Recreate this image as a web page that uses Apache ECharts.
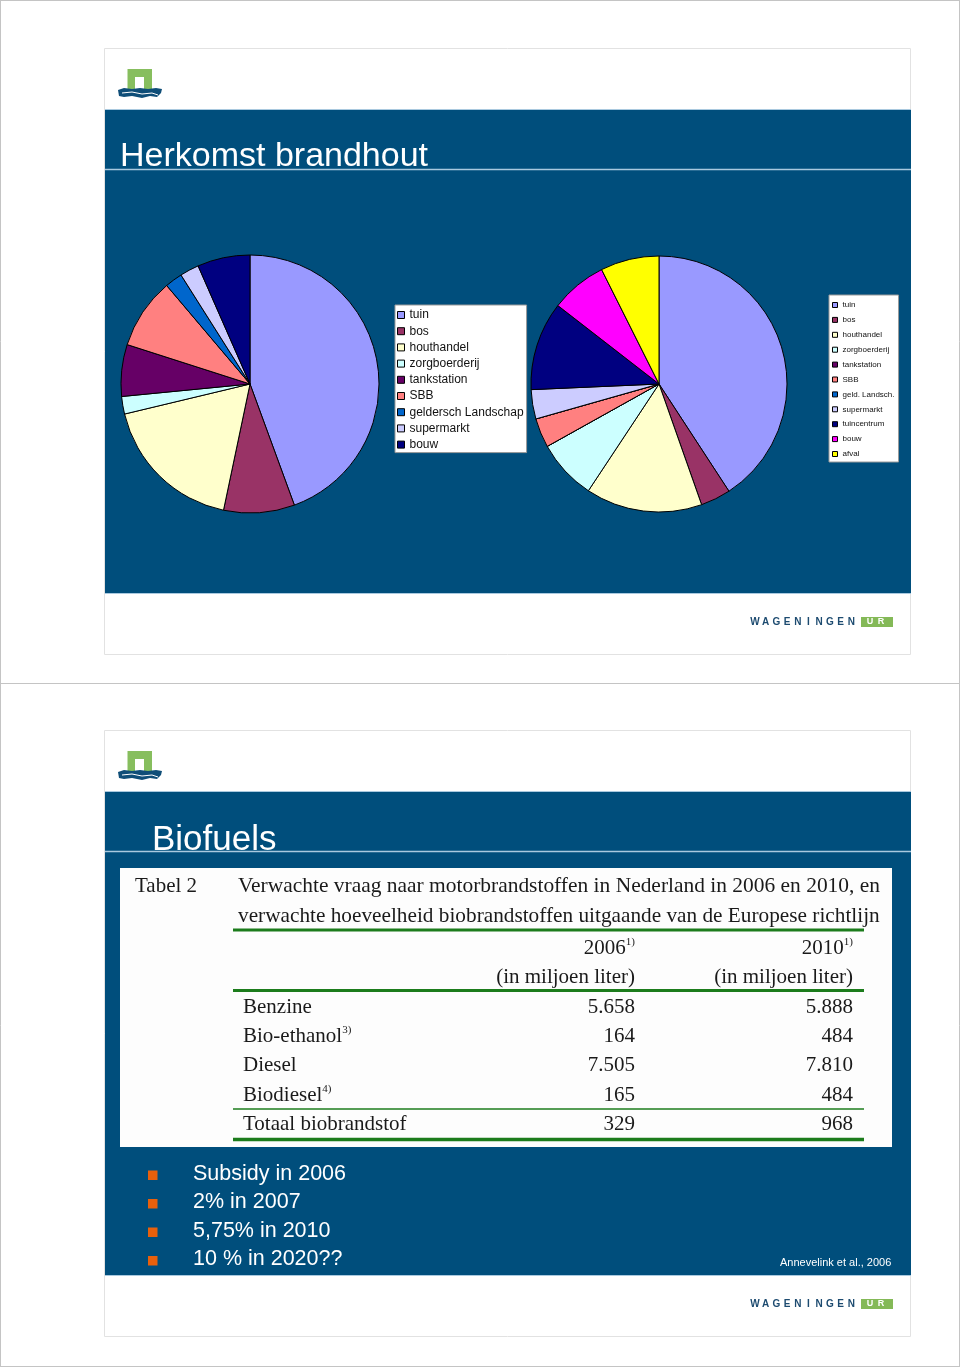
<!DOCTYPE html>
<html><head><meta charset="utf-8">
<script src="https://cdn.jsdelivr.net/npm/echarts@6/dist/echarts.min.js"></script>
<style>html,body{margin:0;padding:0;background:#fff}#c{width:960px;height:1367px}</style>
</head><body><div id="c"></div>
<script>
// ---------- data ----------
const slideTitles = ['Herkomst brandhout', 'Biofuels'];

const pie1Names = ['tuin', 'bos', 'houthandel', 'zorgboerderij', 'tankstation', 'SBB', 'geldersch Landschap', 'supermarkt', 'bouw'];
const pie1Values = [44.5, 8.9, 18.0, 2.2, 6.5, 8.9, 2.2, 2.4, 6.6];

const pie2Names = ['tuin', 'bos', 'houthandel', 'zorgboerderij', 'tankstation', 'SBB', 'geld. Landsch.', 'supermarkt', 'tuincentrum', 'bouw', 'afval'];
const pie2Values = [40.8, 3.8, 14.7, 7.6, 0, 3.7, 0, 3.7, 11.2, 7.1, 7.4];

const tableLabel = 'Tabel 2';
const tableTitle = ['Verwachte vraag naar motorbrandstoffen in Nederland in 2006 en 2010, en',
                    'verwachte hoeveelheid biobrandstoffen uitgaande van de Europese richtlijn'];
const tableColumns = ['2006', '2010'];
const columnNotes = ['1)', '1)'];
const columnUnit = '(in miljoen liter)';
const tableRows = ['Benzine', 'Bio-ethanol', 'Diesel', 'Biodiesel', 'Totaal biobrandstof'];
const rowNotes = ['', '3)', '', '4)', ''];
const values2006 = [5658, 164, 7505, 165, 329];
const values2010 = [5888, 484, 7810, 484, 968];

const bullets = ['Subsidy in 2006', '2% in 2007', '5,75% in 2010', '10 % in 2020??'];
const sourceNote = 'Annevelink et al., 2006';

// ---------- styles ----------
const pie1Colors = ['#9999FF', '#993366', '#FFFFCC', '#CCFFFF', '#660066', '#FF8080', '#0066CC', '#CCCCFF', '#000080'];
const pie2Colors = ['#9999FF', '#993366', '#FFFFCC', '#CCFFFF', '#660066', '#FF8080', '#0066CC', '#CCCCFF', '#000080', '#FF00FF', '#FFFF00'];
const BLUE = '#004e7c';
const LIGHT = '#a9c9df';
const GREEN = '#1c7c1c';
const SANS = '"Liberation Sans", Arial, sans-serif';
const SERIF = '"Liberation Serif", "Times New Roman", serif';

function fmt(n) { return String(n).replace(/\B(?=(\d{3})+(?!\d))/g, '.'); }

const els = [];
// page borders
[[0.5, 0, 0.5, 1367], [959.5, 0, 959.5, 1367], [0, 0.5, 960, 0.5], [0, 683.5, 960, 683.5], [0, 1366.5, 960, 1366.5]].forEach(l => {
  els.push({ type: 'line', shape: { x1: l[0], y1: l[1], x2: l[2], y2: l[3] }, style: { stroke: '#c4c4c4', lineWidth: 1 } });
});

function logo(oy) {
  els.push({ type: 'rect', shape: { x: 127.5, y: 69 + oy, width: 24.5, height: 21.5 }, style: { fill: '#87be5e' } });
  els.push({ type: 'rect', shape: { x: 135, y: 77 + oy, width: 9, height: 13.5 }, style: { fill: '#ffffff' } });
  els.push({ type: 'polygon', shape: { points: [[118, 90], [124, 88], [132, 89], [140, 88], [148, 89], [156, 88], [162, 89], [161, 93], [157, 97], [150, 96], [142, 98], [132, 96], [124, 97], [119, 96]].map(p => [p[0], p[1] + oy]) }, style: { fill: '#0f4e78' } });
  els.push({ type: 'polyline', shape: { points: [[122, 93], [132, 92], [142, 94], [152, 93], [158, 95]].map(p => [p[0], p[1] + oy]) }, style: { stroke: '#ffffff', lineWidth: 1, fill: null } });
}
function wur(cy) {
  'WAGENINGEN'.split('').forEach((ch, i) => {
    els.push({ type: 'text', style: { text: ch, x: 755 + i * 10.7, y: cy, align: 'center', verticalAlign: 'middle', font: 'bold 10px ' + SANS, fill: '#1d4b70' } });
  });
  els.push({ type: 'rect', shape: { x: 861, y: cy - 5, width: 32, height: 10 }, style: { fill: '#84b957' } });
  els.push({ type: 'text', style: { text: 'U', x: 870, y: cy, align: 'center', verticalAlign: 'middle', font: 'bold 9px ' + SANS, fill: '#fff' } });
  els.push({ type: 'text', style: { text: 'R', x: 881, y: cy, align: 'center', verticalAlign: 'middle', font: 'bold 9px ' + SANS, fill: '#fff' } });
}
function slide(oy, title, tx, fs, baseline) {
  els.push({ type: 'rect', shape: { x: 104.5, y: 48.5 + oy, width: 806, height: 606 }, style: { fill: '#fff', stroke: '#e2e2e2', lineWidth: 1 } });
  els.push({ type: 'rect', shape: { x: 105, y: 109 + oy, width: 806, height: 484 }, style: { fill: BLUE } });
  els.push({ type: 'line', shape: { x1: 105, y1: 109.5 + oy, x2: 911, y2: 109.5 + oy }, style: { stroke: LIGHT, lineWidth: 1 } });
  els.push({ type: 'line', shape: { x1: 105, y1: 169.5 + oy, x2: 911, y2: 169.5 + oy }, style: { stroke: LIGHT, lineWidth: 1.5 } });
  els.push({ type: 'line', shape: { x1: 105, y1: 593.5 + oy, x2: 911, y2: 593.5 + oy }, style: { stroke: LIGHT, lineWidth: 1 } });
  els.push({ type: 'text', style: { text: title, x: tx, y: baseline - 0.3465 * fs, verticalAlign: 'middle', font: fs + 'px ' + SANS, fill: '#fff' } });
  logo(oy);
  wur(622 + oy);
}
slide(0, slideTitles[0], 120, 34, 168.5);
slide(682, slideTitles[1], 152, 35, 852);

// table
const TFS = 21;
function tY(b) { return b - 0.3375 * TFS; }
els.push({ type: 'rect', shape: { x: 120, y: 868, width: 772, height: 279 }, style: { fill: '#fdfdfd' } });
const richStyle = { n: { fontSize: TFS, fontFamily: SERIF, lineHeight: 24, fill: '#1a1a1a' }, s: { fontSize: 11, fontFamily: SERIF, lineHeight: 18, verticalAlign: 'top', fill: '#1a1a1a' } };
els.push({ type: 'text', style: { text: tableLabel, x: 135, y: tY(894), verticalAlign: 'middle', font: TFS + 'px ' + SERIF, fill: '#1a1a1a' } });
tableTitle.forEach((t, i) => {
  els.push({ type: 'text', scaleX: i === 0 ? 1.021 : 1.013, originX: 238, style: { text: t, x: 238, y: tY(894 + i * 29.5), verticalAlign: 'middle', font: TFS + 'px ' + SERIF, fill: '#1a1a1a' } });
});
const colRight = [635, 853];
tableColumns.forEach((c, i) => {
  els.push({ type: 'text', style: { text: '{n|' + c + '}{s|' + columnNotes[i] + '}', rich: richStyle, x: colRight[i], y: tY(955.5), align: 'right', verticalAlign: 'middle' } });
  els.push({ type: 'text', style: { text: columnUnit, x: colRight[i], y: tY(985), align: 'right', verticalAlign: 'middle', font: TFS + 'px ' + SERIF, fill: '#1a1a1a' } });
});
const rowBase = [1015, 1043.5, 1073, 1102.3, 1132];
tableRows.forEach((r, i) => {
  const txt = rowNotes[i] ? '{n|' + r + '}{s|' + rowNotes[i] + '}' : '{n|' + r + '}';
  els.push({ type: 'text', style: { text: txt, rich: richStyle, x: 243, y: tY(rowBase[i]), verticalAlign: 'middle' } });
  els.push({ type: 'text', style: { text: fmt(values2006[i]), x: colRight[0], y: tY(rowBase[i]), align: 'right', verticalAlign: 'middle', font: TFS + 'px ' + SERIF, fill: '#1a1a1a' } });
  els.push({ type: 'text', style: { text: fmt(values2010[i]), x: colRight[1], y: tY(rowBase[i]), align: 'right', verticalAlign: 'middle', font: TFS + 'px ' + SERIF, fill: '#1a1a1a' } });
});
[[930, 3], [990.5, 3], [1109, 1.5], [1139.5, 3.5]].forEach(l => {
  els.push({ type: 'line', shape: { x1: 233, y1: l[0], x2: 864, y2: l[0] }, style: { stroke: GREEN, lineWidth: l[1] } });
});

// bullets
bullets.forEach((b, i) => {
  const cy = 1175 + i * 28.5;
  els.push({ type: 'rect', shape: { x: 148, y: cy - 4.5, width: 9.5, height: 9.5 }, style: { fill: '#e8600c' } });
  els.push({ type: 'text', style: { text: b, x: 193, y: cy - 1, verticalAlign: 'middle', font: '21.5px ' + SANS, fill: '#fff' } });
});
els.push({ type: 'text', style: { text: sourceNote, x: 780, y: 1263, verticalAlign: 'middle', font: '11px ' + SANS, fill: '#fff' } });

const pieCommon = {
  type: 'pie', startAngle: 90, clockwise: true, label: { show: false }, labelLine: { show: false },
  itemStyle: { borderColor: '#000', borderWidth: 1 }, emphasis: { disabled: true }, silent: true, z: 5
};
const legendCommon = {
  orient: 'vertical', backgroundColor: '#fff', borderColor: '#9a9a9a', borderWidth: 1, icon: 'rect',
  selectedMode: false, itemStyle: { borderColor: '#000', borderWidth: 1 }, z: 6
};

const chart = echarts.init(document.getElementById('c'), null, { renderer: 'canvas' });
chart.setOption({
  animation: false,
  backgroundColor: '#fff',
  graphic: { elements: els },
  legend: [
    Object.assign({}, legendCommon, {
      data: pie1Names.map((n, i) => ({ name: n, itemStyle: { color: pie1Colors[i] } })),
      left: 395, top: 305, padding: [3, 3, 1, 2], itemWidth: 7, itemHeight: 7, itemGap: 2.2,
      textStyle: { fontFamily: SANS, fontSize: 12, lineHeight: 14, color: '#111' }
    }),
    Object.assign({}, legendCommon, {
      data: pie2Names.map((n, i) => ({ name: n, itemStyle: { color: pie2Colors[i] } })),
      left: 829, top: 295, padding: [5, 4, 3, 3], itemWidth: 5, itemHeight: 5, itemGap: 4.9,
      textStyle: { fontFamily: SANS, fontSize: 8, lineHeight: 10, color: '#111' }
    })
  ],
  series: [
    Object.assign({}, pieCommon, {
      name: 'links', center: [250, 384], radius: 129,
      data: pie1Names.map((n, i) => ({ name: n, value: pie1Values[i], itemStyle: { color: pie1Colors[i] } }))
    }),
    Object.assign({}, pieCommon, {
      name: 'rechts', center: [659, 384], radius: 128,
      data: pie2Names.map((n, i) => ({ name: n, value: pie2Values[i], itemStyle: { color: pie2Colors[i] } }))
    })
  ]
});
</script></body></html>
